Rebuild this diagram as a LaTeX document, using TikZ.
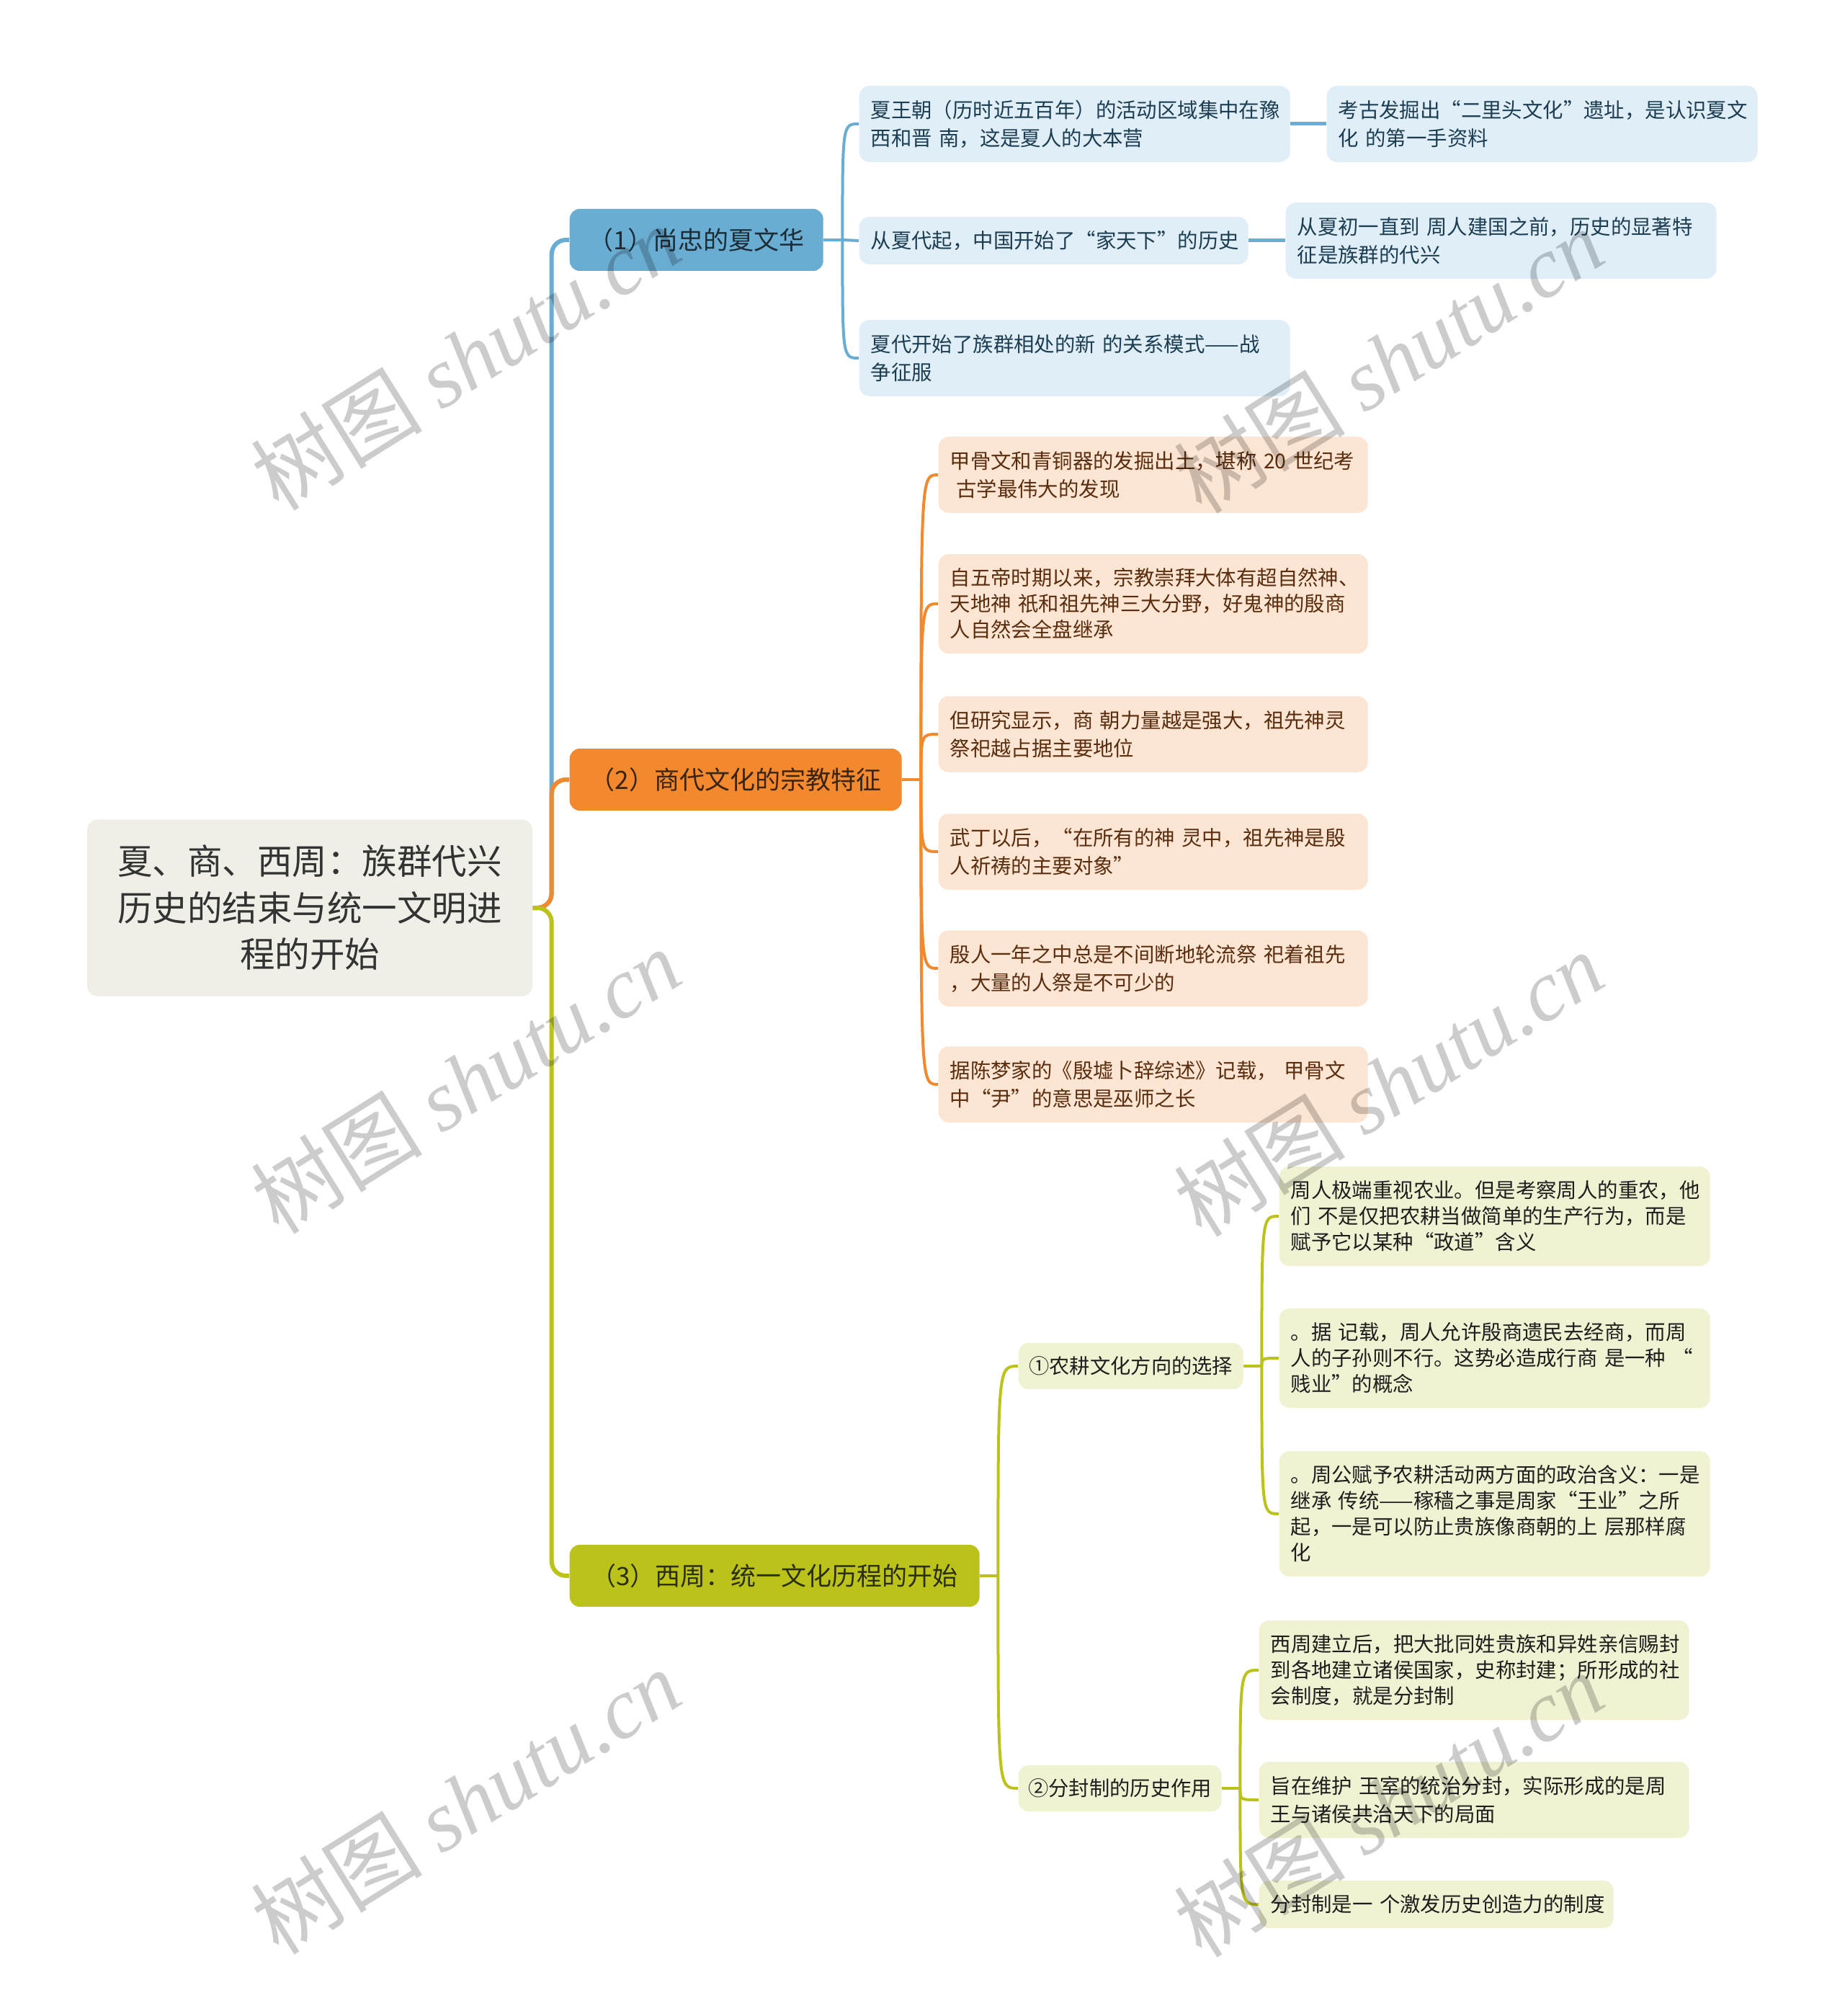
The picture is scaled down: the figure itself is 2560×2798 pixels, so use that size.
\documentclass[tikz,border=0pt]{standalone}
\usepackage{fontspec}
\setmainfont{Noto Sans CJK SC}
\newfontfamily\wmlatin{Liberation Serif}
\definecolor{xiaBlue}{HTML}{6AADD2}
\definecolor{xiaLight}{HTML}{DFEEF7}
\definecolor{xiaText}{HTML}{1C3D52}
\definecolor{xiaDark}{HTML}{1E2C36}
\definecolor{shangOrange}{HTML}{F2892F}
\definecolor{shangLight}{HTML}{FDE5D3}
\definecolor{shangText}{HTML}{5A2D0E}
\definecolor{shangDark}{HTML}{3A2410}
\definecolor{zhouGreen}{HTML}{BBC31B}
\definecolor{zhouLight}{HTML}{F0F2D2}
\definecolor{zhouText}{HTML}{1E1E1E}
\definecolor{zhouDark}{HTML}{2A2E0C}
\definecolor{rootFill}{HTML}{EFEFE8}
\definecolor{rootText}{HTML}{333333}
\newcommand{\lstrut}{\rule[-0.72mm]{0pt}{3.6mm}}
\newcommand{\rstrut}{\rule[-1.38mm]{0pt}{6.45mm}}

\begin{document}
\begin{tikzpicture}[
    x=0.1mm, y=-0.1mm,
    every node/.style={inner sep=0pt},
    root/.style={rounded corners=1.4mm, fill=rootFill, text=rootText, text width=56mm, inner xsep=2.9mm, align=center, minimum height=24.5mm, font=\fontsize{13.8}{18.35}\selectfont, execute at begin node=\rstrut, execute at end node=\rstrut},
    topic/.style={rounded corners=1.4mm, anchor=west, minimum height=8.6mm, text height=3.08mm, text depth=0.42mm, font=\fontsize{9.96}{12}\selectfont},
    subtopic/.style={rounded corners=1.4mm, anchor=west, fill=zhouLight, text=zhouText, minimum height=6.4mm, text height=2.5mm, text depth=0.34mm, font=\fontsize{8.05}{10.24}\selectfont},
    leaf/.style={rounded corners=1.4mm, anchor=west, align=left, inner xsep=1.6mm, inner ysep=1.5mm, font=\fontsize{8.08}{10.24}\selectfont, execute at begin node=\lstrut, execute at end node=\lstrut},
    xialeaf/.style={leaf, fill=xiaLight, text=xiaText},
    shangleaf/.style={leaf, fill=shangLight, text=shangText, text width=56.4mm},
    zhouleaf/.style={leaf, fill=zhouLight, text=zhouText},
    trunk/.style={line width=0.6mm, rounded corners=2mm},
    link/.style={line width=0.4mm},
    wmark/.style={rotate=32, text=black, opacity=0.2, font=\fontsize{34}{34}\selectfont}
]
\fill[white] (0,0) rectangle (2560,2798);
\useasboundingbox (0,0) rectangle (2560,2798);

% Root
\node[root] (root) at (430,1260) {夏、商、西周：族群代兴\\历史的结束与统一文明进\\程的开始};
\path (root.east) ++(26,0) coordinate (tk);

% Main topics
\node[topic, fill=xiaBlue, text=xiaDark, minimum width=35.2mm] (xia) at (790,333) {（1）尚忠的夏文华};
\node[topic, fill=shangOrange, text=shangDark, minimum width=46.1mm] (shang) at (790,1082) {（2）商代文化的宗教特征};
\node[topic, fill=zhouGreen, text=zhouDark, minimum width=56.9mm] (zhou) at (790,2187) {（3）西周：统一文化历程的开始};

% Xia
\node[xialeaf, text width=56.6mm] (xia1) at (1192,172) {夏王朝（历时近五百年）的活动区域集中在豫\\西和晋~南，这是夏人的大本营};
\node[xialeaf, text width=56.6mm] (xia1a) at (1841,172) {考古发掘出“二里头文化”遗址，是认识夏文\\化~的第一手资料};
\node[xialeaf, text width=50.8mm] (xia2) at (1192,334) {从夏代起，中国开始了“家天下”的历史};
\node[xialeaf, text width=56.6mm] (xia2a) at (1784,334) {从夏初一直到~周人建国之前，历史的显著特\\征是族群的代兴};
\node[xialeaf, text width=56.6mm] (xia3) at (1192,497) {夏代开始了族群相处的新~的关系模式——战\\争征服};

% Shang
\node[shangleaf] (shang1) at (1302,659) {甲骨文和青铜器的发掘出土，堪称~20~世纪考\\\hspace*{0.3em}古学最伟大的发现};
\node[shangleaf] (shang2) at (1302,838) {自五帝时期以来，宗教崇拜大体有超自然神、\\天地神~祇和祖先神三大分野，好鬼神的殷商\\人自然会全盘继承};
\node[shangleaf] (shang3) at (1302,1019) {但研究显示，商~朝力量越是强大，祖先神灵\\祭祀越占据主要地位};
\node[shangleaf] (shang4) at (1302,1182) {武丁以后，“在所有的神~灵中，祖先神是殷\\人祈祷的主要对象”};
\node[shangleaf] (shang5) at (1302,1344) {殷人一年之中总是不间断地轮流祭~祀着祖先\\，大量的人祭是不可少的};
\node[shangleaf] (shang6) at (1302,1505) {据陈梦家的《殷墟卜辞综述》记载，~甲骨文\\中“尹”的意思是巫师之长};

% Western Zhou
\node[subtopic, minimum width=31.2mm] (farm) at (1413,1896) {①农耕文化方向的选择};
\node[subtopic, minimum width=28.2mm] (fief) at (1413,2482) {②分封制的历史作用};
\node[zhouleaf, text width=56.6mm] (farm1) at (1775,1688) {周人极端重视农业。但是考察周人的重农，他\\们~不是仅把农耕当做简单的生产行为，而是\\赋予它以某种“政道”含义};
\node[zhouleaf, text width=56.6mm] (farm2) at (1775,1885) {。据~记载，周人允许殷商遗民去经商，而周\\人的子孙则不行。这势必造成行商~是一种~“\\贱业”的概念};
\node[zhouleaf, text width=56.6mm] (farm3) at (1775,2101) {。周公赋予农耕活动两方面的政治含义：一是\\继承~传统——稼穑之事是周家“王业”之所\\起，一是可以防止贵族像商朝的上~层那样腐\\化};
\node[zhouleaf, text width=56.5mm] (fief1) at (1747,2318) {西周建立后，把大批同姓贵族和异姓亲信赐封\\到各地建立诸侯国家，史称封建；所形成的社\\会制度，就是分封制};
\node[zhouleaf, text width=56.5mm] (fief2) at (1747,2498) {旨在维护~王室的统治分封，实际形成的是周\\王与诸侯共治天下的局面};
\node[zhouleaf, text width=46.0mm] (fief3) at (1747,2643) {分封制是一~个激发历史创造力的制度};

% Trunk lines
\draw[trunk, xiaBlue] (root.east) -- (tk) -- (tk |- xia.west) -- (xia.west);
\draw[trunk, shangOrange] (root.east) -- (tk) -- (tk |- shang.west) -- (shang.west);
\draw[trunk, zhouGreen] (root.east) -- (tk) -- (tk |- zhou.west) -- (zhou.west);

% Xia links
\path (xia.east) ++(26,0) coordinate (xiaJ);
\draw[link, xiaBlue] (xia.east) -- (xiaJ);
\draw[link, xiaBlue] (xiaJ) .. controls (xiaJ |- xia1.west) .. (xia1.west);
\draw[link, xiaBlue] (xiaJ) -- (xia2.west);
\draw[link, xiaBlue] (xiaJ) .. controls (xiaJ |- xia3.west) .. (xia3.west);
\draw[link, xiaBlue, line width=0.5mm] (xia1.east) -- (xia1a.west);
\draw[link, xiaBlue, line width=0.5mm] (xia2.east) -- (xia2a.west);

% Shang links
\path (shang.east) ++(26,0) coordinate (shangJ);
\draw[link, shangOrange] (shang.east) -- (shangJ);
\draw[link, shangOrange] (shangJ) .. controls (shangJ |- shang1.west) .. (shang1.west);
\draw[link, shangOrange] (shangJ) .. controls (shangJ |- shang2.west) .. (shang2.west);
\draw[link, shangOrange] (shangJ) .. controls (shangJ |- shang3.west) .. (shang3.west);
\draw[link, shangOrange] (shangJ) .. controls (shangJ |- shang4.west) .. (shang4.west);
\draw[link, shangOrange] (shangJ) .. controls (shangJ |- shang5.west) .. (shang5.west);
\draw[link, shangOrange] (shangJ) .. controls (shangJ |- shang6.west) .. (shang6.west);

% Zhou links
\path (zhou.east) ++(25,0) coordinate (zhouJ);
\draw[link, zhouGreen] (zhou.east) -- (zhouJ);
\draw[link, zhouGreen] (zhouJ) .. controls (zhouJ |- farm.west) .. (farm.west);
\draw[link, zhouGreen] (zhouJ) .. controls (zhouJ |- fief.west) .. (fief.west);
\path (farm.east) ++(25,0) coordinate (farmJ);
\draw[link, zhouGreen] (farm.east) -- (farmJ);
\draw[link, zhouGreen] (farmJ) .. controls (farmJ |- farm1.west) .. (farm1.west);
\draw[link, zhouGreen] (farmJ) .. controls (farmJ |- farm2.west) .. (farm2.west);
\draw[link, zhouGreen] (farmJ) .. controls (farmJ |- farm3.west) .. (farm3.west);
\path (fief.east) ++(25,0) coordinate (fiefJ);
\draw[link, zhouGreen] (fief.east) -- (fiefJ);
\draw[link, zhouGreen] (fiefJ) .. controls (fiefJ |- fief1.west) .. (fief1.west);
\draw[link, zhouGreen] (fiefJ) .. controls (fiefJ |- fief2.west) .. (fief2.west);
\draw[link, zhouGreen] (fiefJ) .. controls (fiefJ |- fief3.west) .. (fief3.west);

% Watermarks
\node[wmark] (wm1) at (646,496) {树图~{\wmlatin\itshape shutu.cn}};
\node[wmark] (wm2) at (1927,500) {树图~{\wmlatin\itshape shutu.cn}};
\node[wmark] (wm3) at (646,1500) {树图~{\wmlatin\itshape shutu.cn}};
\node[wmark] (wm4) at (1927,1504) {树图~{\wmlatin\itshape shutu.cn}};
\node[wmark] (wm5) at (646,2500) {树图~{\wmlatin\itshape shutu.cn}};
\node[wmark] (wm6) at (1927,2504) {树图~{\wmlatin\itshape shutu.cn}};
\end{tikzpicture}
\end{document}
